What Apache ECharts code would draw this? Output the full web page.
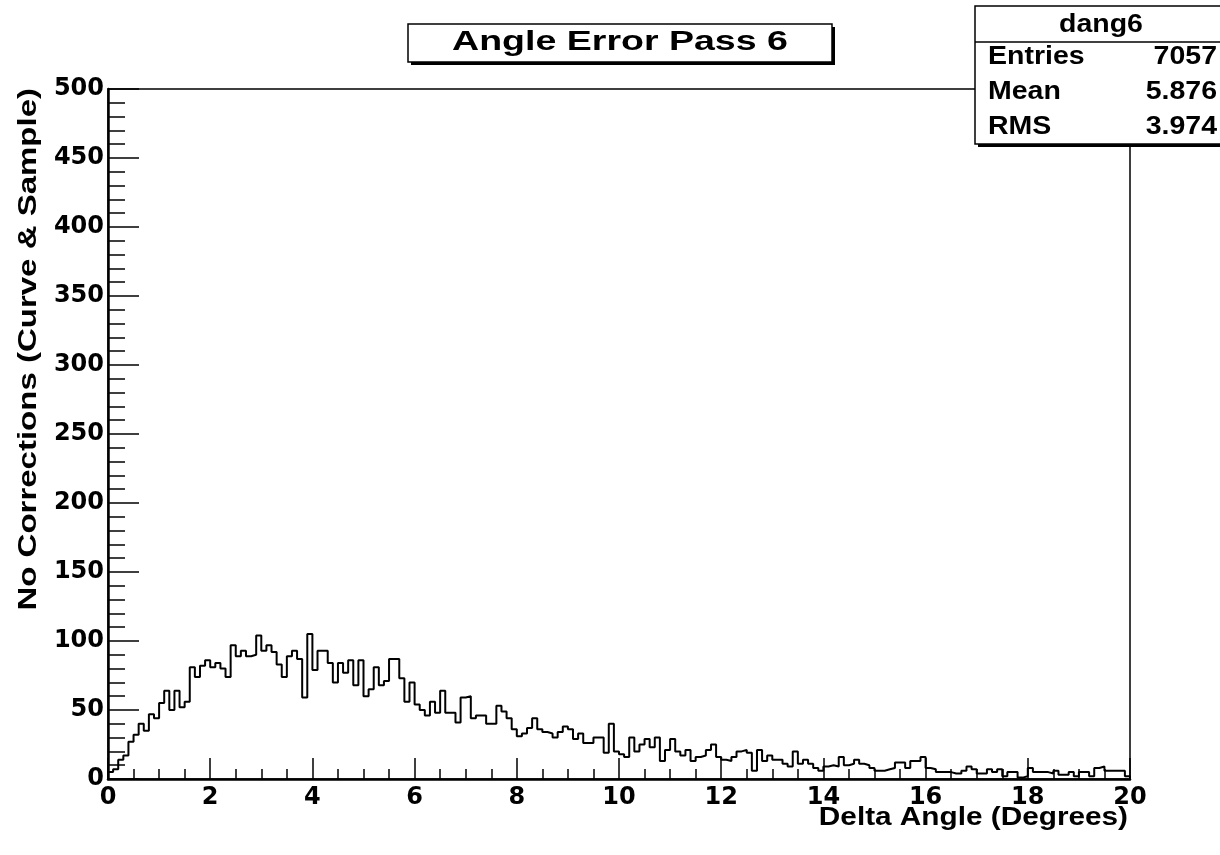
<!DOCTYPE html>
<html><head><meta charset="utf-8">
<script src="https://cdn.jsdelivr.net/npm/echarts@6/dist/echarts.min.js"></script>
<style>html,body{margin:0;padding:0;background:#fff}#c{width:1220px;height:855px}</style>
</head><body><div id="c"></div>
<script>
const histName = 'dang6';
const chartTitle = 'Angle Error Pass 6';
const xTitle = 'Delta Angle (Degrees)';
const yTitle = 'No Corrections (Curve & Sample)';
const statLabels = ['Entries', 'Mean', 'RMS'];
const statValues = ['7057', '5.876', '3.974'];
const xMin = 0, xMax = 20, binWidth = 0.1;
const yMin = 0, yMax = 500;

// bin contents, 0.1 wide bins
const counts0to5 = [
  5,7,14,17,27,32,40,35,47,44,
  55,64,50,64,52,56,81,74,82,86,
  81,84,80,74,97,89,93,89,90,104,
  93,97,92,83,74,89,93,87,59,105,
  79,93,93,84,70,84,77,86,68,86
];
const counts5to10 = [
  60,65,81,68,71,87,87,73,56,70,
  54,50,46,56,48,64,48,48,41,59,
  60,44,46,46,40,40,53,49,44,36,
  31,33,37,44,36,34,33,30,34,38,
  36,29,33,26,26,30,30,19,40,20
];
const counts10to15 = [
  18,16,30,20,25,29,23,30,13,21,
  29,20,17,21,13,16,17,21,25,16,
  14,13,16,20,21,19,6,21,13,17,
  14,14,11,9,20,11,14,11,8,6,
  9,10,9,16,10,11,14,11,10,8
];
const counts15to20 = [
  6,6,7,8,12,12,8,13,13,16,
  8,7,5,5,5,4,4,6,9,7,
  4,4,7,5,7,2,5,5,1,2,
  8,5,5,5,4,6,3,3,5,2,
  5,5,2,8,9,6,6,6,6,2
];

const counts = [].concat(counts0to5, counts5to10, counts10to15, counts15to20);
const pts = [[xMin, 0]];
counts.forEach((c, i) => pts.push([+(xMin + i * binWidth).toFixed(2), c]));
pts.push([xMax, counts[counts.length - 1]]);
pts.push([xMax, 0]);

const numFont = 'DejaVu Sans';
const txtFont = 'Liberation Sans';

const chart = echarts.init(document.getElementById('c'), null, {renderer: 'canvas'});

const tickStyle = {color: '#000', width: 1.5};
const option = {
  animation: false,
  backgroundColor: '#fff',
  grid: {left: 108, right: 90, top: 89, bottom: 76, show: true, borderColor: '#000', borderWidth: 1.5, backgroundColor: 'transparent'},
  xAxis: {
    type: 'value', min: xMin, max: xMax, interval: 2,
    axisLine: {show: true, onZero: false, lineStyle: {color: '#000', width: 2.5}},
    axisTick: {show: true, inside: true, length: 21, lineStyle: tickStyle},
    minorTick: {show: true, splitNumber: 4, length: 10, lineStyle: tickStyle},
    splitLine: {show: false}, minorSplitLine: {show: false},
    axisLabel: {color: '#000', fontFamily: numFont, fontWeight: 'bold', fontSize: 24, margin: 7, showMinLabel: true, showMaxLabel: true}
  },
  yAxis: {
    type: 'value', min: yMin, max: yMax, interval: 50,
    axisLine: {show: true, onZero: false, lineStyle: {color: '#000', width: 2.5}},
    axisTick: {show: true, inside: true, length: 31, lineStyle: tickStyle},
    minorTick: {show: true, splitNumber: 5, length: 17, lineStyle: tickStyle},
    splitLine: {show: false}, minorSplitLine: {show: false},
    axisLabel: {color: '#000', fontFamily: numFont, fontWeight: 'bold', fontSize: 24, margin: 4}
  },
  series: [{
    type: 'line', step: 'end', data: pts, symbol: 'none',
    lineStyle: {color: '#000', width: 2}, clip: true
  }],
  graphic: [
    // title box
    {type: 'rect', z: 100, shape: {x: 411, y: 27, width: 424, height: 38}, style: {fill: '#000'}},
    {type: 'rect', z: 101, shape: {x: 408, y: 24, width: 424, height: 38}, style: {fill: '#fff', stroke: '#000', lineWidth: 1.5}},
    {type: 'text', z: 102, x: 620, y: 43, scaleX: 1.39,
      style: {text: chartTitle, font: 'bold 27px "' + txtFont + '"', textAlign: 'center', textVerticalAlign: 'middle', fill: '#000'}},
    // stats box
    {type: 'rect', z: 100, shape: {x: 978, y: 9, width: 250, height: 138}, style: {fill: '#000'}},
    {type: 'rect', z: 101, shape: {x: 975, y: 6, width: 250, height: 138}, style: {fill: '#fff', stroke: '#000', lineWidth: 1.5}},
    {type: 'line', z: 102, shape: {x1: 975, y1: 42, x2: 1225, y2: 42}, style: {stroke: '#000', lineWidth: 1.5}},
    {type: 'text', z: 102, x: 1101, y: 25, scaleX: 1.14,
      style: {text: histName, font: 'bold 25px "' + txtFont + '"', textAlign: 'center', textVerticalAlign: 'middle', fill: '#000'}},
    ...statLabels.map((t, i) => ({type: 'text', z: 102, x: 988, y: 57 + i * 35, scaleX: 1.14,
      style: {text: t, font: 'bold 25px "' + txtFont + '"', textAlign: 'left', textVerticalAlign: 'middle', fill: '#000'}})),
    ...statValues.map((t, i) => ({type: 'text', z: 102, x: 1217, y: 57 + i * 35, scaleX: 1.14,
      style: {text: t, font: 'bold 25px "' + txtFont + '"', textAlign: 'right', textVerticalAlign: 'middle', fill: '#000'}})),
    // axis titles
    {type: 'text', z: 102, x: 1128, y: 818, scaleX: 1.19,
      style: {text: xTitle, font: 'bold 25px "' + txtFont + '"', textAlign: 'right', textVerticalAlign: 'middle', fill: '#000'}},
    {type: 'text', z: 102, x: 29, y: 88, rotation: Math.PI / 2, scaleX: 1.32,
      style: {text: yTitle, font: 'bold 25px "' + txtFont + '"', textAlign: 'right', textVerticalAlign: 'middle', fill: '#000'}}
  ]
};
chart.setOption(option);
</script>
</body></html>
